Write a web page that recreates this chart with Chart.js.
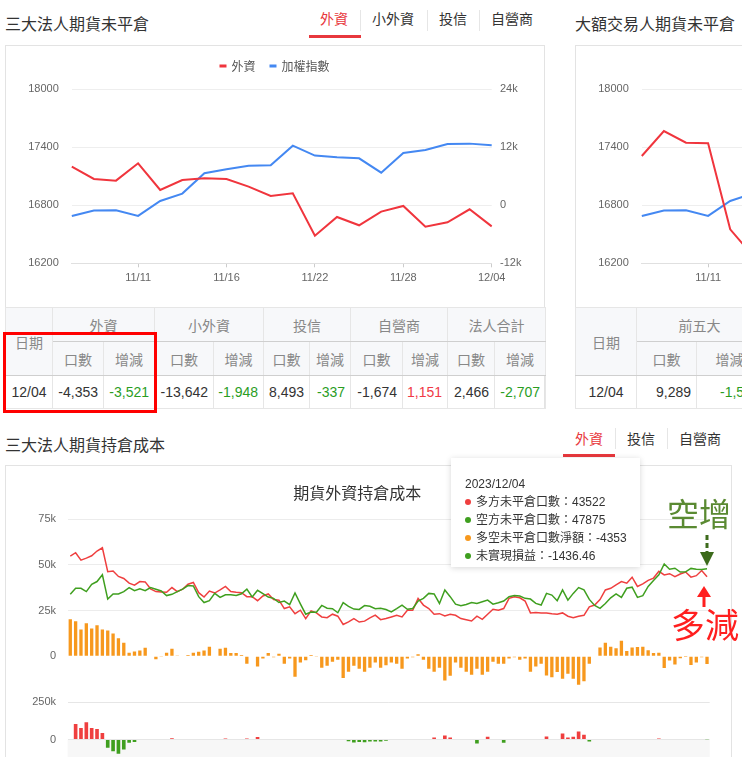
<!DOCTYPE html>
<html lang="zh-Hant">
<head>
<meta charset="utf-8">
<title>三大法人期貨未平倉</title>
<script src="https://cdn.jsdelivr.net/npm/chart.js@4.4.0/dist/chart.umd.min.js"></script>
<style>
  html, body { margin: 0; padding: 0; background: #fff; }
  body { width: 742px; height: 757px; overflow: hidden; position: relative; font-family: 'Noto Sans CJK TC', sans-serif; color: #333; }
  .title { position: absolute; font-size: 16px; line-height: 20px; color: #333; white-space: nowrap; }
  .tab { position: absolute; font-size: 14px; line-height: 18px; color: #333; white-space: nowrap; }
  .tab.on { color: #e8383d; }
  .tabline { position: absolute; height: 3px; background: #e8383d; }
  .sep { position: absolute; width: 1px; background: #e6e6e6; }
  .panel { position: absolute; border: 1px solid #e3e3e3; box-sizing: border-box; }
  canvas { position: absolute; }
  table.oi { position: absolute; border-collapse: collapse; table-layout: fixed; font: 14px 'Liberation Sans', 'Noto Sans CJK TC', sans-serif; }
  table.oi th, table.oi td { border: 1px solid #e6e6e6; padding: 0; overflow: hidden; white-space: nowrap; }
  table.oi th { background: #f7f8fa; color: #888; font-weight: normal; text-align: center; font-family: 'Noto Sans CJK TC', sans-serif; }
  table.oi tr.h1 th.grp, table.oi tr.h2 th, table.oi th.date { border-bottom-color: #cfcfcf; }
  table.oi tr.h1 { height: 34px; }
  table.oi tr.h2 { height: 34px; }
  table.oi tr.row { height: 33px; }
  table.oi td { text-align: right; padding-right: 5px; color: #333; }
  table.oi td.date { text-align: center; padding-right: 0; }
  .hl { position: absolute; left: 3px; top: 332px; width: 154px; height: 81px; border: 3px solid #ff0000; box-sizing: border-box; }
  .tip { position: absolute; left: 451px; top: 458px; width: 189px; height: 109px; background: #fff; box-shadow: 0 1px 6px rgba(0,0,0,0.16); font: 12px 'Liberation Sans', 'Noto Sans CJK TC', sans-serif; color: #333; }
  .tip div { position: absolute; left: 14px; line-height: 18px; white-space: nowrap; }
  .tip i { display: inline-block; width: 6px; height: 6px; border-radius: 50%; margin-right: 5px; vertical-align: 1px; }
  .note { position: absolute; white-space: nowrap; font-family: 'Noto Sans CJK TC', sans-serif; }
</style>
</head>
<body>

<!-- 三大法人期貨未平倉 -->
<div class="title" style="left:5px; top:13px;">三大法人期貨未平倉</div>
<div class="tab on" style="left:320px; top:9px;">外資</div>
<div class="tab" style="left:372px; top:9px;">小外資</div>
<div class="tab" style="left:439px; top:9px;">投信</div>
<div class="tab" style="left:491px; top:9px;">自營商</div>
<div class="sep" style="left:360px; top:10px; height:21px;"></div>
<div class="sep" style="left:427px; top:10px; height:21px;"></div>
<div class="sep" style="left:479px; top:10px; height:21px;"></div>
<div class="tabline" style="left:309px; top:35px; width:52px;"></div>
<div class="panel" style="left:5px; top:45px; width:540px; height:364px;"></div>
<canvas id="oiChart" width="540" height="262" style="left:5px; top:45px;"></canvas>
<table class="oi" id="oiTable" style="left:5px; top:307px; width:540px;"></table>
<div class="hl"></div>

<!-- 大額交易人期貨未平倉 -->
<div class="title" style="left:575px; top:13px;">大額交易人期貨未平倉</div>
<div class="panel" style="left:575px; top:45px; width:540px; height:364px;"></div>
<canvas id="bigChart" width="540" height="262" style="left:575px; top:45px;"></canvas>
<table class="oi" id="bigTable" style="left:575px; top:307px; width:187px;"></table>

<!-- 三大法人期貨持倉成本 -->
<div class="title" style="left:5px; top:434px;">三大法人期貨持倉成本</div>
<div class="tab on" style="left:575px; top:429px;">外資</div>
<div class="tab" style="left:627px; top:429px;">投信</div>
<div class="tab" style="left:679px; top:429px;">自營商</div>
<div class="sep" style="left:615px; top:428px; height:21px;"></div>
<div class="sep" style="left:667px; top:428px; height:21px;"></div>
<div class="tabline" style="left:563px; top:454px; width:52px;"></div>
<div class="panel" style="left:5px; top:465px; width:727px; height:330px;"></div>
<canvas id="costChart" width="727" height="255" style="left:5px; top:465px;"></canvas>
<canvas id="pnlChart" width="727" height="111" style="left:5px; top:684px;"></canvas>

<div class="tip" id="tip"></div>

<div class="note" style="left:667px; top:495px; font-size:32px; line-height:34px; color:#5a8a32;">空增</div>
<div class="note" style="left:671px; top:606px; font-size:34px; line-height:36px; color:#ff1f1f;">多減</div>
<svg width="742" height="757" style="position:absolute; left:0; top:0; pointer-events:none;">
  <line x1="707" y1="535" x2="707" y2="553" stroke="#3d6b1c" stroke-width="3" stroke-dasharray="5 3"/>
  <polygon points="700,552 714,552 707,566" fill="#3d6b1c"/>
  <polygon points="704,586 697,597 711,597" fill="#ff1f1f"/>
  <rect x="702.5" y="596" width="3" height="11" fill="#ff1f1f"/>
</svg>

<script>
// 外資期貨未平倉 + 加權指數 (11/07 ~ 12/04)
const dates = ['11/07', '11/08', '11/09', '11/10', '11/13', '11/14', '11/15', '11/16', '11/17', '11/20',
               '11/21', '11/22', '11/23', '11/24', '11/27', '11/28', '11/29', '11/30', '12/01', '12/04'];
const taiex = [16690, 16745, 16748, 16690, 16845, 16921, 17131, 17172, 17210, 17214,
               17417, 17314, 17296, 17286, 17138, 17341, 17372, 17434, 17438, 17421];
const foreignNet = [8000, 5450, 5100, 8690, 3170, 5240, 5590, 5450, 3860, 1930,
                    2480, -6280, -2410, -4140, -1310, -140, -4410, -3520, -832, -4353];
// 大額交易人 (只看得到前段)
const top5Net = [10200, 15370, 12950, 12830, -4970, -10300];
// x 軸標籤位置
const tickIdx = [3, 7, 11, 15, 19];
const tickText = ['11/11', '11/16', '11/22', '11/28', '12/04'];

// 表格
const groupHeads = ['外資', '小外資', '投信', '自營商', '法人合計'];
const colWidths = [47, 51, 51, 59, 50, 46, 41, 52, 45, 47, 51];
const tableDate = '12/04';
const oiCounts = [-4353, -13642, 8493, -1674, 2466];
const oiChanges = [-3521, -1948, -337, 1151, -2707];
const bigHeads = ['前五大'];
const bigWidths = [61, 60, 66];
const bigCounts = [9289];
const bigChangeText = ['-1,5'];

// 期貨外資持倉成本 (單位: 千口), 最後一筆 2023/12/04
const longOI = [54.8, 56.7, 52.6, 53.7, 55.0, 57.6, 59.4, 46.3, 46.7, 43.7,
                42.6, 40.0, 38.9, 40.9, 40.7, 36.9, 35.4, 35.2, 35.0, 37.6,
                35.4, 36.7, 39.4, 40.4, 34.8, 32.4, 35.7, 34.6, 36.3, 38.2,
                35.4, 35.0, 34.8, 32.6, 32.6, 30.4, 33.0, 34.1, 31.1, 30.7,
                26.1, 27.0, 23.3, 25.2, 20.6, 24.8, 23.7, 21.5, 21.1, 23.0,
                21.9, 17.4, 18.8, 20.6, 18.7, 19.2, 21.0, 22.5, 20.0, 20.6,
                21.5, 22.4, 21.5, 25.2, 25.2, 31.7, 28.0, 26.1, 23.0, 23.3,
                22.0, 23.0, 22.4, 20.6, 20.0, 19.3, 21.9, 20.2, 23.0, 25.7,
                25.2, 26.1, 31.7, 32.6, 32.0, 30.2, 23.7, 23.9, 23.7, 23.7,
                23.3, 23.0, 23.7, 21.9, 21.1, 21.9, 22.4, 27.0, 28.0, 31.0,
                36.3, 37.2, 39.1, 40.9, 40.0, 43.3, 38.2, 39.6, 41.5, 42.8,
                46.5, 44.5, 45.2, 43.6, 45.0, 46.1, 43.3, 44.1, 46.9, 43.522];
const shortOI = [33.9, 37.2, 37.2, 35.4, 39.4, 40.9, 44.6, 31.3, 34.1, 34.1,
                 35.4, 37.6, 35.9, 36.9, 35.9, 37.6, 36.7, 35.7, 33.2, 33.9,
                 35.4, 36.7, 38.7, 38.5, 32.6, 29.4, 30.4, 34.4, 32.2, 33.6,
                 33.7, 33.3, 34.2, 36.7, 32.4, 36.1, 34.3, 32.4, 31.7, 29.4,
                 30.2, 28.3, 34.6, 28.7, 23.0, 24.2, 24.1, 27.8, 26.3, 26.0,
                 23.8, 29.3, 27.3, 25.8, 25.6, 27.7, 27.3, 26.0, 26.3, 25.6,
                 24.3, 26.1, 28.0, 25.7, 26.1, 30.2, 31.7, 34.4, 34.1, 28.9,
                 36.3, 32.6, 28.5, 27.6, 28.3, 29.4, 28.9, 29.8, 30.7, 28.5,
                 29.3, 30.2, 32.6, 33.2, 33.0, 31.7, 31.3, 28.9, 28.0, 34.4,
                 33.5, 30.4, 36.3, 30.7, 34.4, 37.6, 36.3, 31.1, 27.8, 26.2,
                 28.9, 32.0, 34.1, 32.2, 37.2, 37.8, 32.2, 33.2, 38.2, 41.5,
                 44.6, 50.5, 47.6, 48.2, 46.1, 46.2, 48.1, 47.6, 47.5, 47.875];
const netOI = [20.2, 19.1, 14.6, 18.0, 15.2, 16.9, 14.6, 14.1, 12.4, 9.8,
               7.4, 1.9, 2.6, 3.1, 4.6, 0.2, -1.7, -0.2, 1.9, 4.1,
               0.1, 0.2, 0.6, 1.9, 2.4, 3.1, 5.2, 0.2, 4.1, 4.6,
               1.7, 1.7, 0.6, -4.1, 0.2, -5.7, -1.3, 1.7, -0.6, 1.3,
               -4.1, -1.3, -11.3, -3.5, -2.2, 0.6, -0.4, -6.3, -5.2, -3.0,
               -1.9, -11.9, -8.5, -5.2, -6.9, -8.5, -6.3, -3.5, -6.3, -5.0,
               -3.5, -4.1, -6.9, -1.3, -0.6, 1.1, -1.9, -6.9, -8.5, -6.3,
               -13.3, -10.7, -3.5, -6.3, -8.5, -10.2, -6.9, -10.2, -8.5, -3.0,
               -4.1, -4.1, -1.3, -0.6, -1.9, -1.3, -8.5, -5.7, -4.1, -10.6,
               -11.5, -8.7, -12.4, -9.6, -12.4, -15.6, -13.7, -4.1, 0.2, 4.8,
               7.4, 5.2, 4.3, 8.5, 2.8, 4.8, 5.0, 5.2, 3.3, 1.7,
               1.9, -6.5, -2.4, -4.6, -1.1, -0.1, -4.8, -3.5, -0.6, -4.353];
const pnl = [0, 104, 77, 115, 77, 71, 44, -56, -78, -96,
             -67, -22, -16, -4, 0, 0, 4, 0, -3, 9,
             0, 0, 0, 0, 0, -4, -4, 0, 0, 6,
             3, 4, 4, 7, 3, 16, 4, 0, 0, 0,
             0, 0, 4, 0, 0, 0, 0, 0, -4, -4,
             -4, 0, -11, -20, -16, -18, -13, -13, -13, -9,
             3, 3, 4, 0, 0, 0, 3, 4, 13, 0,
             27, 13, 0, 4, 4, 3, -27, 4, 18, 4,
             0, -22, 0, 0, 0, 0, 3, 3, 4, 20,
             -3, 0, 40, 13, 18, 54, 31, -13, 0, 0,
             3, 3, 4, 3, 4, 4, 3, 4, 3, 3,
             7, 0, 0, 0, 0, 0, 0, -4, 0, -1.4];
const costIdx = longOI.map((_, i) => i);

// tooltip 內容
const tipDate = '2023/12/04';
const tipNames = ['多方未平倉口數', '空方未平倉口數', '多空未平倉口數淨額', '未實現損益'];
const tipValues = ['43522', '47875', '-4353', '-1436.46'];

const RED = '#f0353d', BLUE = '#4488f2';
const LONG_RED = '#ef3f3f', SHORT_GREEN = '#3f9f1f', ORANGE = '#f7981d';
const CJK = "'Noto Sans CJK TC', sans-serif";

Chart.defaults.font.family = "'Liberation Sans', Arial, sans-serif";
Chart.defaults.font.size = 11;
Chart.defaults.color = '#666';

// legend 下方多留一點空間
const legendGap = {
    id: 'legendGap',
    beforeInit(chart) {
        const fit = chart.legend.fit;
        chart.legend.fit = function () {
            fit.bind(chart.legend)();
            this.height += 7.3;
        };
    }
};

function oiChart(id, netLabel, net) {
    return new Chart(document.getElementById(id), {
        type: 'line',
        data: {
            labels: dates,
            datasets: [
                { label: netLabel, data: net, yAxisID: 'yR', borderColor: RED, backgroundColor: RED, borderWidth: 2, pointRadius: 0, order: 0 },
                { label: '加權指數', data: taiex, yAxisID: 'yL', borderColor: BLUE, backgroundColor: BLUE, borderWidth: 2, pointRadius: 0, order: 1 }
            ]
        },
        options: {
            responsive: false,
            animation: false,
            layout: { padding: 0 },
            plugins: {
                legend: { labels: { boxWidth: 5, boxHeight: 1, padding: 15, color: '#555', font: { family: CJK, size: 12 } } },
                tooltip: { enabled: false }
            },
            scales: {
                x: {
                    grid: {
                        drawOnChartArea: false, tickLength: 4,
                        color: c => tickIdx.includes(c.index) ? '#cccccc' : 'rgba(0,0,0,0)'
                    },
                    border: { color: '#e0e0e0' },
                    ticks: {
                        autoSkip: false, maxRotation: 0, padding: 4,
                        callback: (v, i) => tickIdx.includes(i) ? tickText[tickIdx.indexOf(i)] : ''
                    },
                    afterFit: s => { s.height = 43.7; }
                },
                yL: {
                    position: 'left', min: 16200, max: 18000,
                    ticks: { stepSize: 600, padding: 13, callback: v => String(v) },
                    grid: { color: '#eeeeee', drawTicks: false },
                    border: { display: false },
                    afterFit: s => { s.width = 66.8; }
                },
                yR: {
                    position: 'right', min: -12000, max: 24000,
                    ticks: { stepSize: 12000, padding: 8.3, callback: v => v === 0 ? '0' : (v / 1000) + 'k' },
                    grid: { drawOnChartArea: false, drawTicks: false },
                    border: { display: false },
                    afterFit: s => { s.width = 53.3; }
                }
            }
        },
        plugins: [legendGap]
    });
}

oiChart('oiChart', '外資', foreignNet);
oiChart('bigChart', '前五大', top5Net);

// 表格
function fmt(n) { return n.toLocaleString('en-US'); }
function chgColor(n) { return n < 0 ? '#2a9d1f' : (n > 0 ? '#f03a46' : '#333'); }

function buildTable(el, widths, heads, counts, changes) {
    let html = '<colgroup>' + widths.map(w => `<col style="width:${w}px">`).join('') + '</colgroup>';
    html += '<tr class="h1"><th class="date" rowspan="2">日期</th>' +
        heads.map(h => `<th class="grp" colspan="2">${h}</th>`).join('') + '</tr>';
    html += '<tr class="h2">' + heads.map(() => '<th>口數</th><th>增減</th>').join('') + '</tr>';
    html += `<tr class="row"><td class="date">${tableDate}</td>` +
        counts.map((c, i) => {
            const ch = changes[i];
            const txt = typeof ch === 'number' ? fmt(ch) : ch;
            const col = typeof ch === 'number' ? chgColor(ch) : '#2a9d1f';
            const style = typeof ch === 'number' ? '' : 'text-align:left; padding-left:23px;';
            return `<td>${fmt(c)}</td><td style="color:${col}; ${style}">${txt}</td>`;
        }).join('') + '</tr>';
    el.innerHTML = html;
}
buildTable(document.getElementById('oiTable'), colWidths, groupHeads, oiCounts, oiChanges);
buildTable(document.getElementById('bigTable'), bigWidths, bigHeads, bigCounts, bigChangeText);

// 持倉成本圖 (上: 口數, 下: 未實現損益)
const zeroBand = {
    id: 'zeroBand',
    beforeDraw(chart) {
        const { ctx, chartArea: a, scales: { y } } = chart;
        const y0 = y.getPixelForValue(0);
        ctx.save();
        ctx.fillStyle = '#f7f7f7';
        ctx.fillRect(a.left, y0, a.right - a.left, a.bottom - y0);
        ctx.restore();
    }
};

new Chart(document.getElementById('costChart'), {
    type: 'bar',
    data: {
        labels: costIdx,
        datasets: [
            { type: 'line', label: '空方未平倉口數', data: shortOI, borderColor: SHORT_GREEN, borderWidth: 1.5, pointRadius: 0, order: 0 },
            { type: 'line', label: '多方未平倉口數', data: longOI, borderColor: LONG_RED, borderWidth: 1.5, pointRadius: 0, order: 1 },
            { type: 'bar', label: '多空未平倉口數淨額', data: netOI, backgroundColor: ORANGE, barPercentage: 0.62, categoryPercentage: 1, order: 2 }
        ]
    },
    options: {
        responsive: false,
        animation: false,
        layout: { padding: { top: 0, right: 22.3, bottom: 7.3, left: 0 } },
        plugins: {
            legend: { display: false },
            tooltip: { enabled: false },
            title: {
                display: true, text: '期貨外資持倉成本', color: '#333',
                font: { family: CJK, size: 16, weight: 'normal' },
                padding: { top: 18.4, bottom: 16.7 }
            }
        },
        scales: {
            x: { display: false, offset: true },
            y: {
                min: -25, max: 75,
                ticks: { stepSize: 25, padding: 11.6, callback: v => v > 0 ? v + 'k' : (v === 0 ? '0' : '') },
                grid: { drawTicks: false, color: c => c.tick.value > 0 ? '#ececec' : 'rgba(0,0,0,0)' },
                border: { display: false },
                afterFit: s => { s.width = 62.6; }
            }
        }
    }
});

new Chart(document.getElementById('pnlChart'), {
    type: 'bar',
    data: {
        labels: costIdx,
        datasets: [{
            label: '未實現損益', data: pnl,
            backgroundColor: c => c.raw >= 0 ? LONG_RED : SHORT_GREEN,
            barPercentage: 0.68, categoryPercentage: 1
        }]
    },
    options: {
        responsive: false,
        animation: false,
        layout: { padding: { top: 4.4, right: 22.3, bottom: 7.1, left: 0 } },
        plugins: { legend: { display: false }, tooltip: { enabled: false } },
        scales: {
            x: { display: false, offset: true },
            y: {
                min: -250, max: 250,
                ticks: { stepSize: 250, padding: 11.6, callback: v => v === 0 ? '0' : v + 'k' },
                grid: { drawTicks: false, color: '#e6e6e6' },
                border: { display: false },
                afterFit: s => { s.width = 62.6; }
            }
        }
    },
    plugins: [zeroBand]
});

// tooltip
const tipColors = [LONG_RED, SHORT_GREEN, ORANGE, SHORT_GREEN];
const tip = document.getElementById('tip');
let tipHtml = `<div style="top:17px;">${tipDate}</div>`;
tipNames.forEach((n, i) => {
    tipHtml += `<div style="top:${35 + i * 18}px;"><i style="background:${tipColors[i]}"></i>${n}：${tipValues[i]}</div>`;
});
tip.innerHTML = tipHtml;
</script>
</body>
</html>
